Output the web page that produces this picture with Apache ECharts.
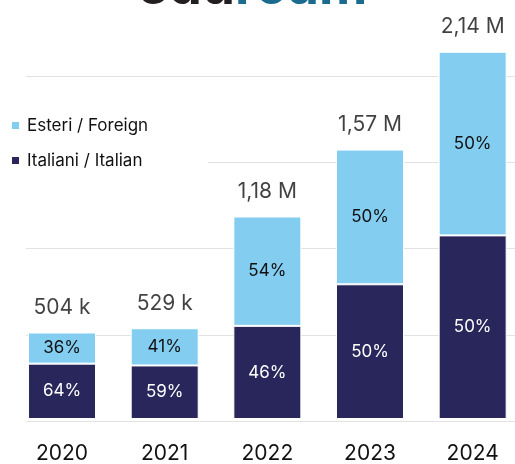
<!DOCTYPE html>
<html>
<head>
<meta charset="utf-8">
<script src="https://cdn.jsdelivr.net/npm/echarts@6/dist/echarts.min.js"></script>
<style>
  html, body { margin: 0; padding: 0; background: #fff; overflow: hidden; width: 515px; height: 464px; }
  /* il grafico originale è tagliato in alto e a destra */
  #chart { position: absolute; left: 0; top: -10px; width: 524px; height: 474px; }
</style>
</head>
<body>
<div id="chart"></div>
<script>
// anni
var years = ['2020', '2021', '2022', '2023', '2024'];
// utenti in milioni
var italiani = [0.3226, 0.3121, 0.5428, 0.785, 1.07];
var esteri = [0.1814, 0.2169, 0.6372, 0.785, 1.07];
var totali = [0.504, 0.529, 1.18, 1.57, 2.14];
// etichette
var italianiPct = [64, 59, 46, 50, 50];
var esteriPct = [36, 41, 54, 50, 50];
var totaliLabel = ['504 k', '529 k', '1,18 M', '1,57 M', '2,14 M'];

var FONT = 'Inter';
var chart = echarts.init(document.getElementById('chart'));

var option = {
  animation: false,
  backgroundColor: '#fff',
  title: {
    left: 137,
    top: -28,
    padding: 0,
    text: '{a|edu}{b|roam}',
    textStyle: {
      rich: {
        a: { fontFamily: FONT, fontWeight: 'bold', fontSize: 53, color: '#231f20' },
        b: { fontFamily: FONT, fontWeight: 'bold', fontSize: 53, color: '#1a6b8e' }
      }
    }
  },
  legend: {
    orient: 'vertical',
    left: 8,
    top: 123,
    padding: [4, 60, 4, 2],
    backgroundColor: '#fff',
    itemGap: 18,
    itemWidth: 9,
    itemHeight: 9,
    icon: 'rect',
    data: ['Esteri / Foreign', 'Italiani / Italian'],
    textStyle: { fontFamily: FONT, fontSize: 17, color: '#111', padding: [0, 0, 0, 2] }
  },
  grid: [
    { left: 10.7, right: 0, top: 0, bottom: 43 },
    { left: 26, right: 9, top: 0, bottom: 43 }
  ],
  xAxis: [
    {
      type: 'category',
      gridIndex: 0,
      data: years,
      axisLine: { show: false },
      axisTick: { show: false },
      axisLabel: { margin: 24, fontFamily: FONT, fontSize: 21, color: '#111' }
    },
    { type: 'value', gridIndex: 1, min: 0, max: 1, show: false }
  ],
  yAxis: [
    {
      type: 'value', gridIndex: 0, min: 0, max: 2.5, interval: 0.5,
      axisLabel: { show: false }, axisLine: { show: false }, axisTick: { show: false },
      splitLine: { show: false }
    },
    {
      type: 'value', gridIndex: 1, min: 0, max: 2.5, interval: 0.5,
      axisLabel: { show: false }, axisLine: { show: false }, axisTick: { show: false },
      splitLine: { show: true, lineStyle: { color: '#e2e2e2', width: 1 } }
    }
  ],
  series: [
    {
      name: 'Italiani / Italian',
      type: 'bar',
      stack: 'tot',
      barWidth: 68,
      data: italiani,
      itemStyle: { color: '#29265b', borderColor: '#fff', borderWidth: 1 },
      label: {
        show: true,
        position: 'inside',
        fontFamily: FONT,
        fontSize: 17,
        color: '#fff',
        formatter: function (p) { return italianiPct[p.dataIndex] + '%'; }
      }
    },
    {
      name: 'Esteri / Foreign',
      type: 'bar',
      stack: 'tot',
      barWidth: 68,
      data: esteri,
      itemStyle: { color: '#83cdf0', borderColor: '#fff', borderWidth: 1 },
      label: {
        show: true,
        position: 'inside',
        fontFamily: FONT,
        fontSize: 17,
        color: '#111',
        formatter: function (p) { return esteriPct[p.dataIndex] + '%'; }
      }
    },
    {
      name: 'Totale',
      type: 'scatter',
      data: totali,
      symbolSize: 1,
      itemStyle: { color: 'rgba(0,0,0,0)' },
      silent: true,
      label: {
        show: true,
        position: 'top',
        distance: 14,
        fontFamily: FONT,
        fontSize: 21,
        color: '#111',
        formatter: function (p) { return totaliLabel[p.dataIndex]; }
      }
    }
  ]
};

chart.setOption(option);
</script>
</body>
</html>
